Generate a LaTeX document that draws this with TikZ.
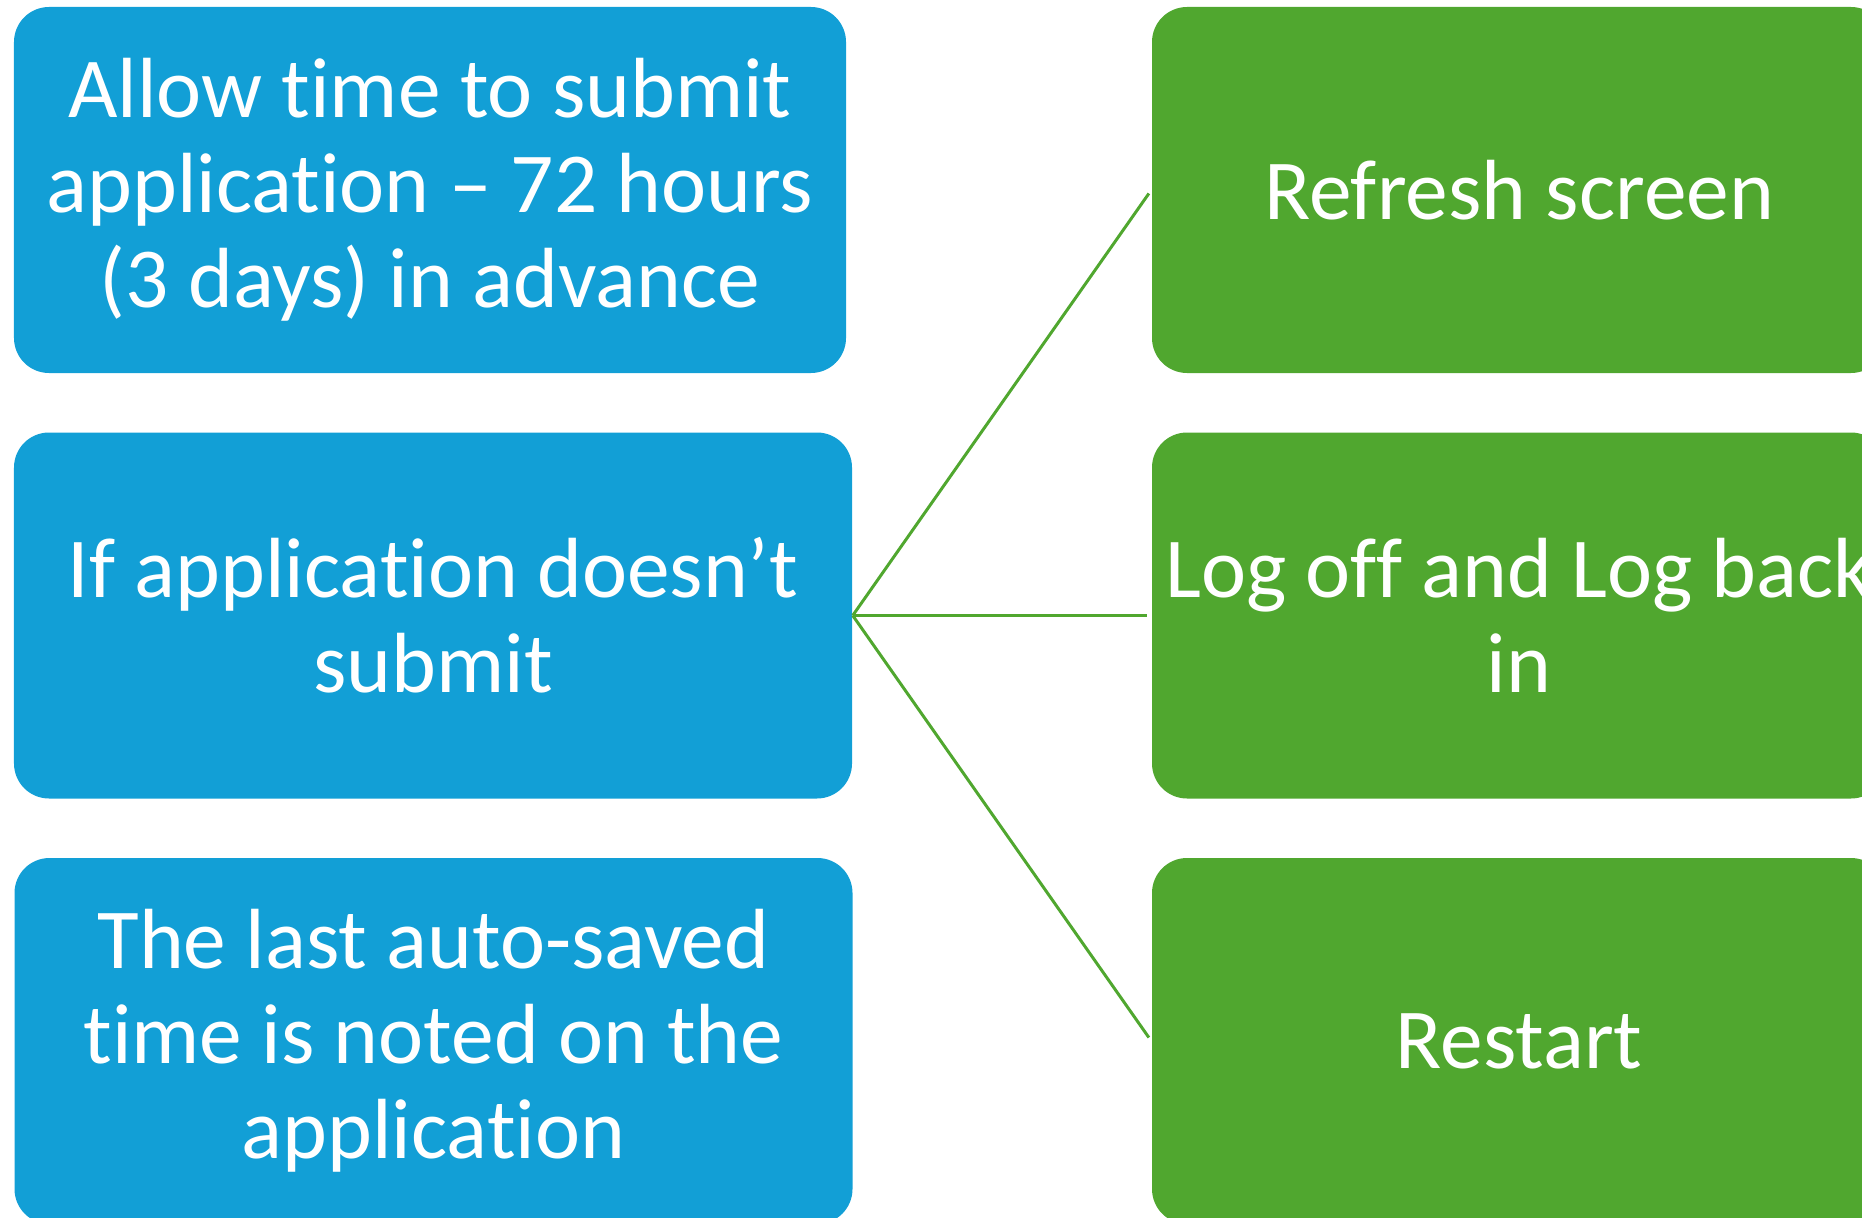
\documentclass[tikz,border=0pt]{standalone}
\usepackage{fontspec}
\setmainfont{Carlito}[Ligatures=NoCommon]
\definecolor{tipblue}{RGB}{18,159,214}
\definecolor{fixgreen}{RGB}{80,167,47}
\tikzset{
	card/.style={rectangle, rounded corners=0.35cm, minimum width=8.38cm, minimum height=3.66cm, inner sep=0pt, text=white, align=center, font=\fontsize{24.3}{27}\selectfont},
	tipcard/.style={card, fill=tipblue},
	fixcard/.style={card, fill=fixgreen, minimum width=7.34cm},
	link/.style={draw=fixgreen, line width=0.85pt, shorten >=1.2pt}
}
\begin{document}
\begin{tikzpicture}
			\useasboundingbox (0, 0) rectangle (18.62, 12.17);
			\clip (0, 0) rectangle (18.62, 12.17);

			\node[tipcard, minimum width=8.32cm] (allow) at(4.30, 10.27){Allow time to submit\\application – 72 hours\\(3 days) in advance};
			\node[tipcard] (fails) at(4.33, 6.015){If application doesn’t\\submit};
			\node[tipcard] (saved) at(4.335, 1.76){The last auto-saved\\time is noted on the\\application};

			\node[fixcard] (refresh) at(15.19, 10.27){Refresh screen};
			\node[fixcard] (relog) at(15.19, 6.015){Log off and Log back\\in};
			\node[fixcard] (restart) at(15.19, 1.76){Restart};

				\draw[link](fails.east) to (refresh.west);
				\draw[link](fails.east) to (relog.west);
				\draw[link](fails.east) to (restart.west);
		\end{tikzpicture}
\end{document}
